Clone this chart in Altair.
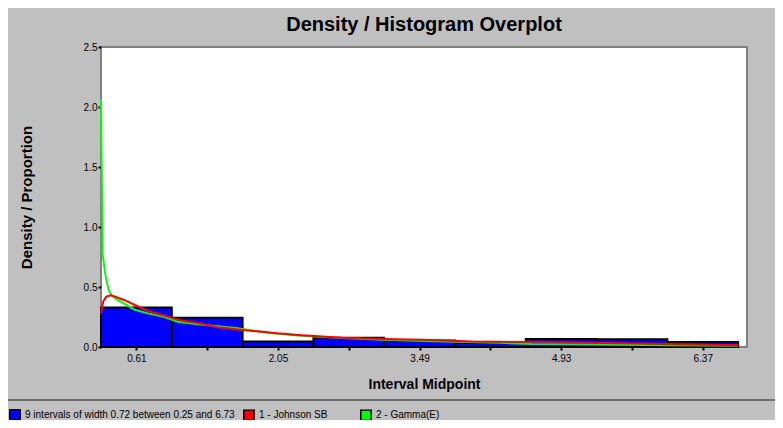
import altair as alt
import pandas as pd

# ---- data ----
bin_mids = [0.61, 1.33, 2.05, 2.77, 3.49, 4.21, 4.93, 5.65, 6.37]
bin_width = 0.72
hist_values = [0.329, 0.244, 0.045, 0.078, 0.054, 0.036, 0.066, 0.064, 0.042]
labeled_ticks = [0.61, 2.05, 3.49, 4.93, 6.37]

gamma_x = [0.25, 0.267, 0.288, 0.304, 0.328, 0.354, 0.422, 0.49, 0.592, 0.727, 0.896,
           1.031, 1.234, 1.639, 1.99, 2.25, 2.65, 3.11, 3.74, 4.30, 4.63, 5.31, 6.00, 6.73]
gamma_y = [2.06, 0.77, 0.64, 0.56, 0.475, 0.43, 0.39, 0.36, 0.31, 0.28, 0.25,
           0.21, 0.19, 0.156, 0.115, 0.095, 0.077, 0.06, 0.045, 0.035, 0.025, 0.02, 0.015, 0.01]

johnson_x = [0.25, 0.273, 0.304, 0.354, 0.422, 0.49, 0.592, 0.727, 0.896, 1.064, 1.234,
             1.437, 1.707, 1.88, 2.04, 2.29, 2.70, 3.23, 3.50, 4.02, 4.84, 5.25, 5.94, 6.73]
johnson_y = [0.28, 0.38, 0.42, 0.43, 0.41, 0.39, 0.35, 0.30, 0.26, 0.22, 0.20,
             0.164, 0.14, 0.128, 0.114, 0.097, 0.078, 0.064, 0.06, 0.045, 0.039, 0.035, 0.025, 0.015]

hist_label = "9 intervals of width 0.72 between 0.25 and 6.73"
curve_labels = ["1 - Johnson SB", "2 - Gamma(E)"]
hist_color = "#0000ff"
curve_colors = ["#ff0000", "#00ff00"]

FONT = "Liberation Sans, Arial, sans-serif"

hist_df = pd.DataFrame({"mid": bin_mids, "value": hist_values})
hist_df["series"] = hist_label
hist_df["width"] = bin_width
gamma_df = pd.DataFrame({"x": gamma_x, "y": gamma_y})
gamma_df["series"] = curve_labels[1]
johnson_df = pd.DataFrame({"x": johnson_x, "y": johnson_y})
johnson_df["series"] = curve_labels[0]
curves_df = pd.concat([johnson_df, gamma_df], ignore_index=True)

xscale = alt.Scale(domain=[0.25, 6.82], nice=False, zero=False)
yscale = alt.Scale(domain=[0, 2.5], nice=False)

label_expr = ("indexof(" + str(labeled_ticks) + ", datum.value) >= 0 ? format(datum.value, '.2f') : ''")

xaxis = alt.Axis(
    title="Interval Midpoint", values=bin_mids, labelExpr=label_expr,
    grid=False, domain=False, tickColor="black", tickSize=3, tickWidth=2,
    labelFont=FONT, labelFontSize=10, labelColor="black", labelPadding=3,
    titleFont=FONT, titleFontSize=14, titleFontWeight="bold", titleColor="black",
    titlePadding=14, labelFlush=False,
)
yaxis = alt.Axis(
    title="Density / Proportion", values=[0, 0.5, 1.0, 1.5, 2.0, 2.5], format=".1f",
    grid=False, domain=False, tickColor="black", tickSize=3, tickWidth=2,
    labelFont=FONT, labelFontSize=10, labelColor="black", labelPadding=1,
    titleFont=FONT, titleFontSize=15, titleFontWeight="bold", titleColor="black",
    titlePadding=49,
)

legend_common = dict(
    title=None, orient="none", direction="horizontal", symbolType="square",
    symbolSize=110, symbolStrokeColor="black", symbolStrokeWidth=1.5, symbolOpacity=1,
    labelFont=FONT, labelFontSize=10, labelColor="black", labelOffset=4,
    labelLimit=400, legendY=362,
)

bars = alt.Chart(hist_df).transform_calculate(
    x0="datum.mid - datum.width / 2", x1="datum.mid + datum.width / 2"
).mark_bar(stroke="black", strokeWidth=2, opacity=1).encode(
    x=alt.X("x0:Q", scale=xscale, axis=xaxis),
    x2="x1:Q",
    y=alt.Y("value:Q", scale=yscale, axis=yaxis),
    y2=alt.datum(0),
    color=alt.Color(
        "series:N",
        scale=alt.Scale(domain=[hist_label], range=[hist_color]),
        legend=alt.Legend(legendX=-92, **legend_common),
    ),
)

gamma = alt.Chart(gamma_df).mark_line(strokeWidth=2, color=curve_colors[1]).encode(
    x=alt.X("x:Q", scale=xscale), y=alt.Y("y:Q", scale=yscale),
)
johnson = alt.Chart(johnson_df).mark_line(strokeWidth=2, color=curve_colors[0]).encode(
    x=alt.X("x:Q", scale=xscale), y=alt.Y("y:Q", scale=yscale),
)

# invisible layer that only carries the legend for the two fitted curves
curve_key = alt.Chart(curves_df).mark_square(size=0, opacity=0).encode(
    x=alt.X("x:Q", scale=xscale), y=alt.Y("y:Q", scale=yscale),
    fill=alt.Fill(
        "series:N",
        scale=alt.Scale(domain=curve_labels, range=curve_colors),
        legend=alt.Legend(legendX=142, columns=2, gridAlign="all", columnPadding=29,
                          **legend_common),
    ),
)

sep = alt.Chart(pd.DataFrame({"a": [0]})).mark_rule(color="#202020", strokeWidth=1).encode(
    x=alt.value(-96), x2=alt.value(680), y=alt.value(353)
)

chart = alt.layer(bars, gamma, johnson, curve_key, sep).properties(
    width=646, height=300,
    padding={"left": 93, "top": 39, "right": 28, "bottom": 73},
    autosize=alt.AutoSizeParams(type="none"),
    background="#c0c0c0",
    title=alt.Title("Density / Histogram Overplot", font=FONT, fontSize=20,
                    fontWeight="bold", color="black", frame="group",
                    baseline="alphabetic", offset=-9),
).configure_view(fill="white", stroke="#808080", strokeWidth=2)

chart.save("out.html", embed_options={"renderer": "svg", "actions": False})
